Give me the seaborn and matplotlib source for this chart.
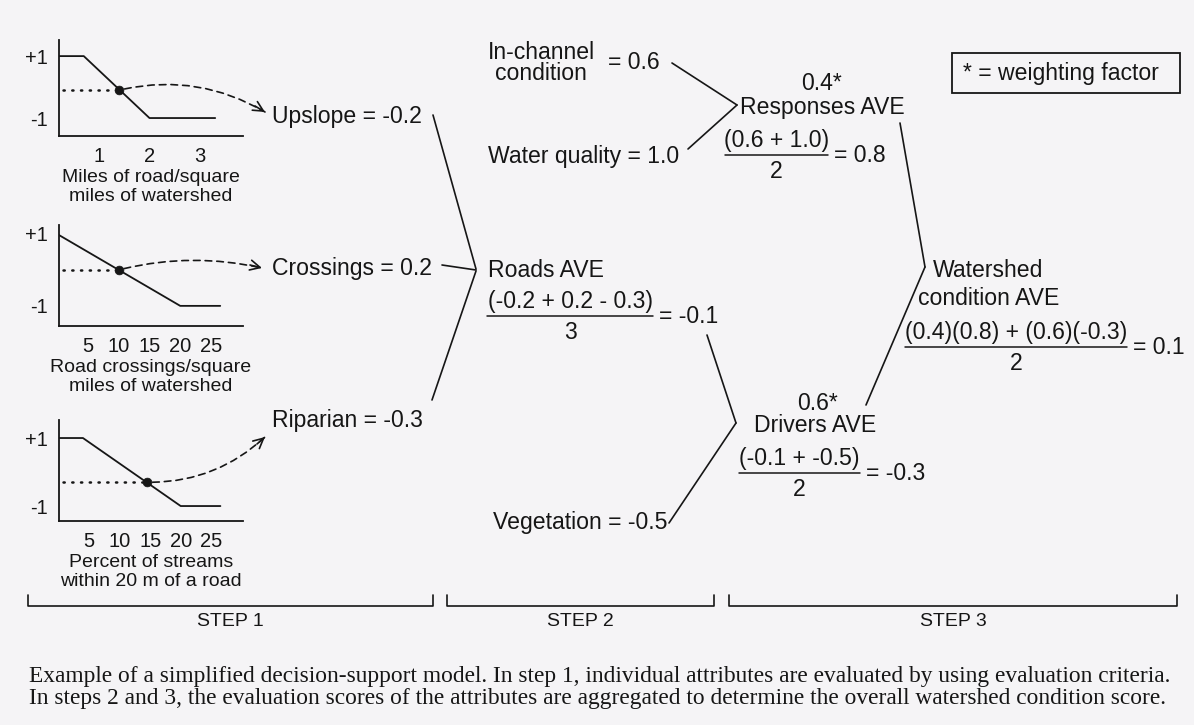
import matplotlib
matplotlib.use("Agg")
import matplotlib.pyplot as plt
import seaborn as sns
import pandas as pd
from matplotlib.patches import ConnectionPatch, Rectangle

# step 1: evaluation curves (attribute value -> score)
miles_x = [0.2, 0.7, 2.0, 3.3]
miles_y = [1, 1, -1, -1]
cross_x = [0, 20, 26.5]
cross_y = [1, -1, -1]
ripar_x = [0, 4, 20, 26.5]
ripar_y = [1, 1, -1, -1]
# observed watershed value marked on each curve
miles_obs = (1.4, -0.1)
cross_obs = (10, 0.0)
ripar_obs = (14.5, -0.3)

miles_ticks = [1, 2, 3]
pct_ticks = [5, 10, 15, 20, 25]
score_ticks = [1, -1]
score_labels = ["+1", "-1"]

# step 2 / step 3 scores
attr_names = ["Upslope", "Crossings", "Riparian"]
attr_scores = [-0.2, 0.2, -0.3]
resp_scores = [0.6, 1.0]
veg_score = -0.5
weights = [0.4, 0.6]
roads_ave = -0.1
resp_ave = 0.8
drivers_ave = -0.3
watershed_ave = 0.1

W, H = 1194, 725
BG = "#f5f4f6"
INK = "#161616"
FS = 16.6

sns.set_theme(style="white")
plt.rcParams["font.family"] = ["Liberation Sans", "DejaVu Sans"]
plt.rcParams["text.color"] = INK

fig = plt.figure(figsize=(W / 100, H / 100), dpi=100, facecolor=BG)
ax = fig.add_axes([0, 0, 1, 1])
ax.set_xlim(0, W)
ax.set_ylim(H, 0)
ax.axis("off")


def mini_chart(box, xs, ys, obs, xlim, ylim, ticks, xlabel):
    l, t, r, b = box
    a = fig.add_axes([l / W, 1 - b / H, (r - l) / W, (b - t) / H])
    a.set_facecolor("none")
    sns.lineplot(x=xs, y=ys, ax=a, color=INK, lw=1.3)
    x0 = xlim[0] + 0.02 * (xlim[1] - xlim[0])
    sns.lineplot(x=[x0, obs[0]], y=[obs[1], obs[1]], ax=a, color=INK,
                 lw=1.8, linestyle=(0, (0.5, 3)), dash_capstyle="round")
    sns.scatterplot(x=[obs[0]], y=[obs[1]], ax=a, color=INK, s=40,
                    edgecolor=INK, zorder=5)
    a.set_xlim(xlim)
    a.set_ylim(ylim)
    a.set_xticks(ticks)
    a.set_yticks(score_ticks, score_labels)
    for s in ["top", "right"]:
        a.spines[s].set_visible(False)
    for s in ["left", "bottom"]:
        a.spines[s].set_color(INK)
        a.spines[s].set_linewidth(1.3)
    a.tick_params(length=5, width=1.2, labelsize=14.5, pad=3, colors=INK)
    a.set_xlabel(xlabel, fontsize=14, linespacing=1.2, labelpad=2, color=INK)
    a.set_ylabel("")
    return a


ax1 = mini_chart((59, 40, 243, 136), miles_x, miles_y, miles_obs,
                 (0.21, 3.85), (-1.58, 1.52), miles_ticks,
                 "Miles of road/square\nmiles of watershed")
ax2 = mini_chart((59, 225, 243, 326), cross_x, cross_y, cross_obs,
                 (0.3, 30.2), (-1.56, 1.25), pct_ticks,
                 "Road crossings/square\nmiles of watershed")
ax3 = mini_chart((59, 420, 243, 521), ripar_x, ripar_y, ripar_obs,
                 (0.08, 30.2), (-1.44, 1.53), pct_ticks,
                 "Percent of streams\nwithin 20 m of a road")

# dashed curved arrows from each curve point to its score
label_y = [116, 268, 420]
arrow_ends = [(265, 112), (262, 268), (265, 437)]
arrow_tails = [(255, 106), (250, 265), (257, 444)]
arrow_rads = [-0.2, -0.12, 0.2]
for a, obs, end, tail, rad in zip([ax1, ax2, ax3], [miles_obs, cross_obs, ripar_obs],
                                  arrow_ends, arrow_tails, arrow_rads):
    cp = ConnectionPatch(xyA=obs, coordsA=a.transData, xyB=end, coordsB=ax.transData,
                         arrowstyle="-", linestyle=(0, (4, 3)), color=INK, lw=1.2,
                         connectionstyle=f"arc3,rad={rad}", shrinkA=4, shrinkB=0)
    fig.add_artist(cp)
    ax.annotate("", xy=end, xytext=tail,
                arrowprops=dict(arrowstyle="->", color=INK, lw=1.2, mutation_scale=18,
                                shrinkA=0, shrinkB=0))

for name, score, y in zip(attr_names, attr_scores, label_y):
    ax.text(272, y, f"{name} = {score:.1f}", fontsize=FS, va="center", ha="left")

# connector lines of the aggregation tree
links = [
    [(433, 115), (476, 269)], [(442, 265), (476, 270)], [(476, 271), (432, 400)],
    [(672, 63), (737, 105)], [(737, 105), (688, 149)],
    [(707, 335), (736, 423)], [(736, 423), (669, 523)],
    [(900, 123), (925, 267)], [(925, 267), (866, 405)],
]
for seg in links:
    ax.plot([seg[0][0], seg[1][0]], [seg[0][1], seg[1][1]], color=INK, lw=1.2)


def fraction(x0, x1, y, num, den, result):
    xm = (x0 + x1) / 2
    ax.text(xm, y - 15, num, fontsize=FS, ha="center", va="center")
    ax.plot([x0, x1], [y, y], color=INK, lw=1.1)
    ax.text(xm, y + 16, den, fontsize=FS, ha="center", va="center")
    ax.text(x1 + 6, y, f"= {result:.1f}", fontsize=FS, ha="left", va="center")


# step 2
ax.text(541, 52, "In-channel", fontsize=FS, ha="center", va="center")
ax.text(541, 73, "condition", fontsize=FS, ha="center", va="center")
ax.text(608, 62, f"= {resp_scores[0]:.1f}", fontsize=FS, ha="left", va="center")
ax.text(488, 156, f"Water quality = {resp_scores[1]:.1f}", fontsize=FS, ha="left", va="center")
ax.text(488, 270, "Roads AVE", fontsize=FS, ha="left", va="center")
fraction(487, 653, 316,
         f"({attr_scores[0]:.1f} + {attr_scores[1]:.1f} - {abs(attr_scores[2]):.1f})",
         str(len(attr_scores)), roads_ave)
ax.text(493, 523, f"Vegetation = {veg_score:.1f}", fontsize=FS, ha="left", va="center")

# step 3
ax.text(822, 83, f"{weights[0]:.1f}*", fontsize=FS, ha="center", va="center")
ax.text(822, 107, "Responses AVE", fontsize=FS, ha="center", va="center")
fraction(725, 828, 155, f"({resp_scores[0]:.1f} + {resp_scores[1]:.1f})",
         str(len(resp_scores)), resp_ave)
ax.text(818, 403, f"{weights[1]:.1f}*", fontsize=FS, ha="center", va="center")
ax.text(815, 425, "Drivers AVE", fontsize=FS, ha="center", va="center")
fraction(739, 860, 473, f"({roads_ave:.1f} + {veg_score:.1f})", "2", drivers_ave)
ax.text(933, 270, "Watershed", fontsize=FS, ha="left", va="center")
ax.text(918, 298, "condition AVE", fontsize=FS, ha="left", va="center")
fraction(905, 1127, 347,
         f"({weights[0]:.1f})({resp_ave:.1f}) + ({weights[1]:.1f})({drivers_ave:.1f})",
         "2", watershed_ave)

# legend box
ax.add_patch(Rectangle((952, 53), 228, 40, fill=False, edgecolor=INK, lw=1.3))
ax.text(963, 73, "* = weighting factor", fontsize=FS, ha="left", va="center")

# step brackets
brackets = [(28, 433, "STEP 1"), (447, 714, "STEP 2"), (729, 1177, "STEP 3")]
for x0, x1, lab in brackets:
    ax.plot([x0, x0, x1, x1], [595, 606, 606, 595], color=INK, lw=1.2)
    ax.text((x0 + x1) / 2, 622, lab, fontsize=14, ha="center", va="center")

# caption
cap1 = ("Example of a simplified decision-support model. In step 1, individual "
        "attributes are evaluated by using evaluation criteria.")
cap2 = ("In steps 2 and 3, the evaluation scores of the attributes are aggregated "
        "to determine the overall watershed condition score.")
t1 = ax.text(29, 682, cap1, fontsize=13, family="Liberation Serif", va="baseline")
t2 = ax.text(29, 704, cap2, fontsize=13, family="Liberation Serif", va="baseline")
fig.canvas.draw()
r = fig.canvas.get_renderer()
fs = 13 * 1136 / t1.get_window_extent(r).width
t1.set_fontsize(fs)
t2.set_fontsize(fs)

fig.savefig("out.png", dpi=100, facecolor=BG)
